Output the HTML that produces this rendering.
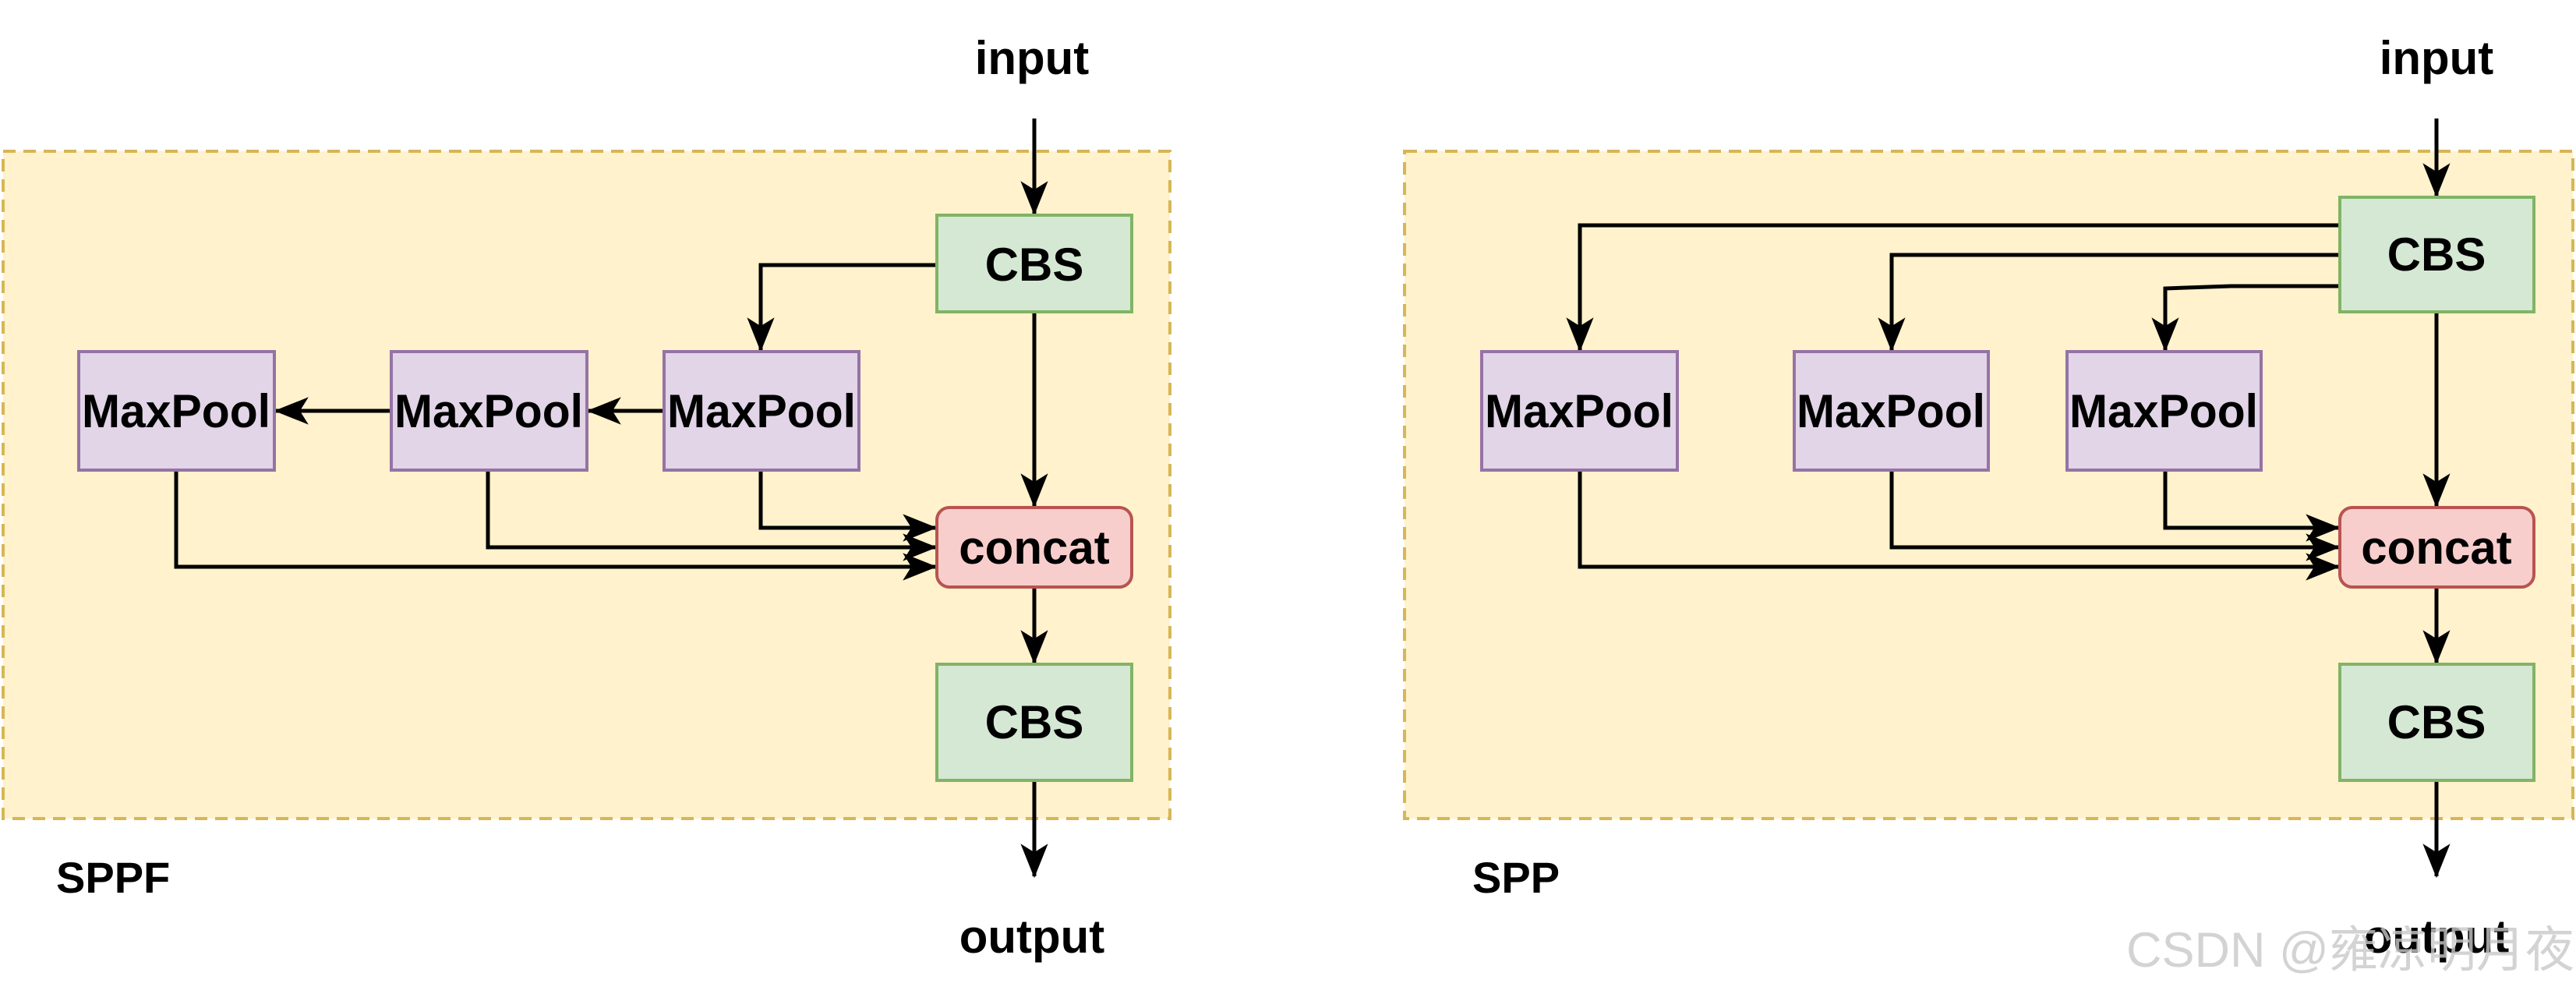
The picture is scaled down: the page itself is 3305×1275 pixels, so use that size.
<!DOCTYPE html>
<html><head><meta charset="utf-8"><style>
html,body{margin:0;padding:0;background:#fff}
svg{display:block}
text{font-family:"Liberation Sans",Arial,sans-serif;font-weight:bold;fill:#000}
</style></head><body>
<svg width="3305" height="1275" viewBox="0 0 3305 1275" xmlns="http://www.w3.org/2000/svg">
<defs>
<marker id="b" viewBox="0 0 10 10" refX="9.5" refY="5" markerWidth="44" markerHeight="44" markerUnits="userSpaceOnUse" orient="auto">
<path d="M0,1 L10,5 L0,9 L2.5,5 Z" fill="#000"/>
</marker>
</defs>
<rect x="4" y="194" width="1497" height="856" fill="#fff2cc" stroke="#d6b656" stroke-width="4" stroke-dasharray="16 10"/>
<rect x="1802" y="194" width="1499" height="856" fill="#fff2cc" stroke="#d6b656" stroke-width="4" stroke-dasharray="16 10"/>
<g stroke="#000" stroke-width="5" fill="none" marker-end="url(#b)">
<path d="M1327 152 V274"/>
<path d="M1202 340 H976 V449"/>
<path d="M852 527 H755"/>
<path d="M502 527 H354"/>
<path d="M1327 400 V649"/>
<path d="M976 603 V677 H1200"/>
<path d="M626 603 V702 H1200"/>
<path d="M226 603 V727 H1200"/>
<path d="M1327 753 V850"/>
<path d="M1327 1001 V1124"/>
<path d="M3126 152 V251"/>
<path d="M3002 289 H2027 V449"/>
<path d="M3002 327 H2427 V449"/>
<path d="M3002 367 H2862 L2778 370 V449"/>
<path d="M3126 400 V649"/>
<path d="M2778 603 V677 H3000"/>
<path d="M2427 603 V702 H3000"/>
<path d="M2027 603 V727 H3000"/>
<path d="M3126 753 V850"/>
<path d="M3126 1001 V1124"/>
</g>
<g stroke-width="4">
<rect x="1202" y="276" width="250" height="124" fill="#d5e8d4" stroke="#82b366"/>
<rect x="1202" y="852" width="250" height="149" fill="#d5e8d4" stroke="#82b366"/>
<rect x="1202" y="651" width="250" height="102" rx="16" fill="#f8cecc" stroke="#b85450"/>
<rect x="852" y="451" width="250" height="152" fill="#e1d5e7" stroke="#9673a6"/>
<rect x="502" y="451" width="251" height="152" fill="#e1d5e7" stroke="#9673a6"/>
<rect x="101" y="451" width="251" height="152" fill="#e1d5e7" stroke="#9673a6"/>
<rect x="3002" y="253" width="249" height="147" fill="#d5e8d4" stroke="#82b366"/>
<rect x="3002" y="852" width="249" height="149" fill="#d5e8d4" stroke="#82b366"/>
<rect x="3002" y="651" width="249" height="102" rx="16" fill="#f8cecc" stroke="#b85450"/>
<rect x="1901" y="451" width="251" height="152" fill="#e1d5e7" stroke="#9673a6"/>
<rect x="2302" y="451" width="249" height="152" fill="#e1d5e7" stroke="#9673a6"/>
<rect x="2652" y="451" width="249" height="152" fill="#e1d5e7" stroke="#9673a6"/>
</g>
<g font-size="60" text-anchor="middle">
<text x="1327" y="360">CBS</text>
<text x="1327" y="947">CBS</text>
<text x="1327" y="723">concat</text>
<text x="977" y="548" textLength="242" lengthAdjust="spacingAndGlyphs">MaxPool</text>
<text x="627" y="548" textLength="242" lengthAdjust="spacingAndGlyphs">MaxPool</text>
<text x="226" y="548" textLength="242" lengthAdjust="spacingAndGlyphs">MaxPool</text>
<text x="3126" y="347">CBS</text>
<text x="3126" y="947">CBS</text>
<text x="3126" y="723">concat</text>
<text x="2026" y="548" textLength="242" lengthAdjust="spacingAndGlyphs">MaxPool</text>
<text x="2426" y="548" textLength="242" lengthAdjust="spacingAndGlyphs">MaxPool</text>
<text x="2776" y="548" textLength="242" lengthAdjust="spacingAndGlyphs">MaxPool</text>
<text x="1324" y="95">input</text>
<text x="3126" y="95">input</text>
<text x="1324" y="1222">output</text>
<text x="3126" y="1222">output</text>
</g>
<g font-size="56">
<text x="72" y="1145">SPPF</text>
<text x="1889" y="1145">SPP</text>
</g>
<text x="2728" y="1240" font-size="63" style="font-weight:normal;fill:#c8c8c8;fill-opacity:0.8;font-family:'Liberation Sans','Noto Sans CJK SC',sans-serif">CSDN @雍凉明月夜</text>
</svg>
</body></html>
